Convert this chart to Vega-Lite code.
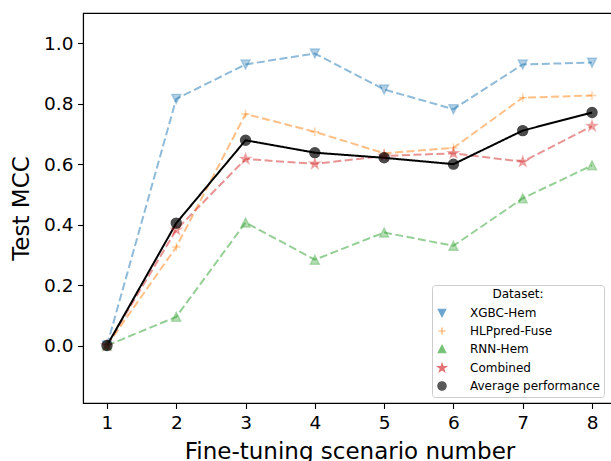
{
  "$schema": "https://vega.github.io/schema/vega-lite/v6.json",
  "autosize": {"type": "none"},
  "padding": {"left": 83, "top": 13, "right": 0, "bottom": 58},
  "width": 533,
  "height": 390,
  "config": {
    "font": "DejaVu Sans",
    "view": {"stroke": "#000000", "strokeWidth": 1.1},
    "axis": {"grid": false, "domainColor": "#000000", "domainWidth": 1.1, "tickColor": "#000000", "tickSize": 5.5, "tickWidth": 1.1, "labelColor": "#000000", "labelFontSize": 18.5, "titleColor": "#000000", "titleFontSize": 23, "titleFontWeight": "normal", "labelPadding": 4.5}
  },
  "data": {"values": [
    {"s": "XGBC-Hem", "x": 1, "y": 0.0},
    {"s": "XGBC-Hem", "x": 2, "y": 0.816},
    {"s": "XGBC-Hem", "x": 3, "y": 0.930},
    {"s": "XGBC-Hem", "x": 4, "y": 0.966},
    {"s": "XGBC-Hem", "x": 5, "y": 0.847},
    {"s": "XGBC-Hem", "x": 6, "y": 0.782},
    {"s": "XGBC-Hem", "x": 7, "y": 0.930},
    {"s": "XGBC-Hem", "x": 8, "y": 0.936},
    {"s": "HLPpred-Fuse", "x": 1, "y": 0.0},
    {"s": "HLPpred-Fuse", "x": 2, "y": 0.326},
    {"s": "HLPpred-Fuse", "x": 3, "y": 0.766},
    {"s": "HLPpred-Fuse", "x": 4, "y": 0.707},
    {"s": "HLPpred-Fuse", "x": 5, "y": 0.636},
    {"s": "HLPpred-Fuse", "x": 6, "y": 0.654},
    {"s": "HLPpred-Fuse", "x": 7, "y": 0.820},
    {"s": "HLPpred-Fuse", "x": 8, "y": 0.827},
    {"s": "RNN-Hem", "x": 1, "y": 0.0},
    {"s": "RNN-Hem", "x": 2, "y": 0.095},
    {"s": "RNN-Hem", "x": 3, "y": 0.407},
    {"s": "RNN-Hem", "x": 4, "y": 0.284},
    {"s": "RNN-Hem", "x": 5, "y": 0.374},
    {"s": "RNN-Hem", "x": 6, "y": 0.330},
    {"s": "RNN-Hem", "x": 7, "y": 0.487},
    {"s": "RNN-Hem", "x": 8, "y": 0.596},
    {"s": "Combined", "x": 1, "y": 0.0},
    {"s": "Combined", "x": 2, "y": 0.383},
    {"s": "Combined", "x": 3, "y": 0.617},
    {"s": "Combined", "x": 4, "y": 0.601},
    {"s": "Combined", "x": 5, "y": 0.627},
    {"s": "Combined", "x": 6, "y": 0.636},
    {"s": "Combined", "x": 7, "y": 0.608},
    {"s": "Combined", "x": 8, "y": 0.726},
    {"s": "Average performance", "x": 1, "y": 0.0},
    {"s": "Average performance", "x": 2, "y": 0.405},
    {"s": "Average performance", "x": 3, "y": 0.679},
    {"s": "Average performance", "x": 4, "y": 0.638},
    {"s": "Average performance", "x": 5, "y": 0.621},
    {"s": "Average performance", "x": 6, "y": 0.600},
    {"s": "Average performance", "x": 7, "y": 0.711},
    {"s": "Average performance", "x": 8, "y": 0.771}
  ]},
  "encoding": {
    "x": {"field": "x", "type": "quantitative", "scale": {"domain": [0.654, 8.346], "nice": false, "zero": false},
      "axis": {"values": [1, 2, 3, 4, 5, 6, 7, 8], "format": "d", "labelAngle": 0, "title": "Fine-tuning scenario number", "titlePadding": 9}},
    "y": {"field": "y", "type": "quantitative", "scale": {"domain": [-0.19, 1.1], "nice": false, "zero": false},
      "axis": {"values": [0, 0.2, 0.4, 0.6, 0.8, 1.0], "format": ".1f", "title": "Test MCC", "titlePadding": 10}},
    "color": {"field": "s", "type": "nominal",
      "scale": {"domain": ["XGBC-Hem", "HLPpred-Fuse", "RNN-Hem", "Combined", "Average performance"], "range": ["#1f77b4", "#ff7f0e", "#2ca02c", "#d62728", "#000000"]},
      "legend": {
        "title": "Dataset:", "orient": "none", "legendX": 349, "legendY": 272,
        "titleAnchor": "middle", "titleFontSize": 12, "titleFontWeight": "normal", "titleColor": "#000000", "titlePadding": 6,
        "labelFontSize": 12, "labelColor": "#000000", "labelOffset": 22,
        "strokeColor": "#cccccc", "fillColor": "#ffffff", "cornerRadius": 3, "padding": 4, "rowPadding": 5,
        "symbolSize": 70, "symbolStrokeWidth": 1.2, "symbolOpacity": 0.65
      }}
  },
  "layer": [
    {
      "mark": {"type": "line", "strokeWidth": 2},
      "encoding": {
        "strokeDash": {"condition": {"test": "datum.s === 'Average performance'", "value": [1, 0]}, "value": [8, 3.5]},
        "opacity": {"condition": {"test": "datum.s === 'Average performance'", "value": 1}, "value": 0.5}
      }
    },
    {
      "mark": {"type": "point", "filled": true, "strokeWidth": 1.4, "size": 100},
      "encoding": {
        "stroke": {"field": "s", "type": "nominal", "legend": null,
          "scale": {"domain": ["XGBC-Hem", "HLPpred-Fuse", "RNN-Hem", "Combined", "Average performance"], "range": ["#1f77b4", "#ff7f0e", "#2ca02c", "#d62728", "#000000"]}},
        "shape": {"field": "s", "type": "nominal", "legend": null,
          "scale": {"domain": ["XGBC-Hem", "HLPpred-Fuse", "RNN-Hem", "Combined", "Average performance"], "range": ["M-0.9,-0.9L0.9,-0.9L0,0.9Z", "M-0.85,0H0.85M0,-0.85V0.85", "M0,-0.9L0.9,0.9L-0.9,0.9Z", "M0,-1.05L0.236,-0.324L0.999,-0.324L0.381,0.124L0.617,0.849L0,0.401L-0.617,0.849L-0.381,0.124L-0.999,-0.324L-0.236,-0.324Z", "circle"]}},
        "fillOpacity": {"condition": {"test": "datum.s === 'Average performance'", "value": 1}, "value": 0.5},
        "strokeOpacity": {"condition": {"test": "datum.s === 'Average performance'", "value": 1}, "value": 0.5}
      }
    }
  ]
}
